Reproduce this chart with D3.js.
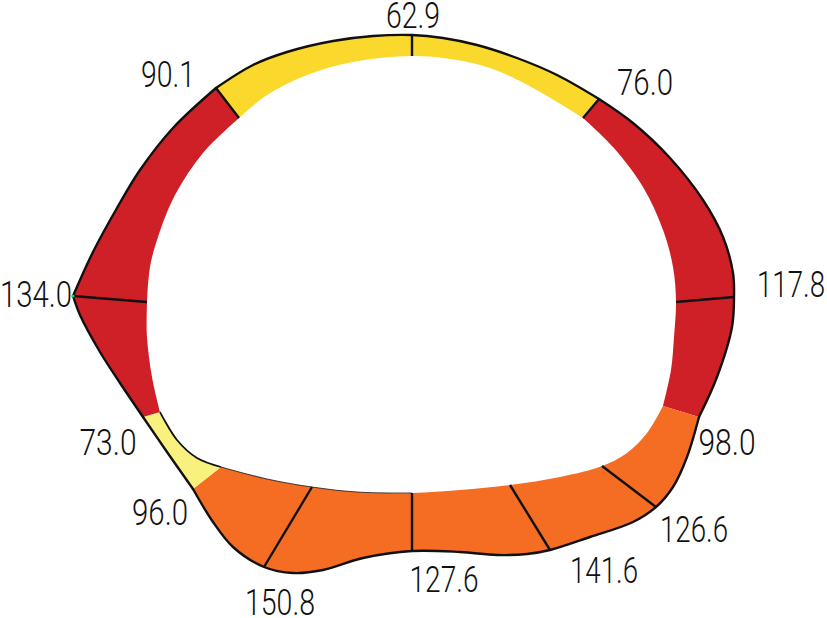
<!DOCTYPE html>
<html>
<head>
<meta charset="utf-8">
<script src="https://cdn.jsdelivr.net/npm/d3@7"></script>
<style>
html, body { margin: 0; padding: 0; background: #fff; }
svg { display: block; }
text { font-family: Roboto, "Liberation Sans", sans-serif; font-weight: 300; font-size: 36px; fill: #111; }
</style>
</head>
<body>
<div id="area"></div>
<script>
// DATA, section drawing units, origin on the centreline, y up
var stationValues = ['62.9', '76.0', '117.8', '98.0', '126.6', '141.6', '127.6', '150.8', '96.0', '73.0', '134.0', '90.1'];

var outerX = [0, 31, 65, 105, 145, 187, 221, 258, 291, 311, 321, 322, 320, 305, 287, 275, 261, 244, 221, 178, 138, 115, 85, 48, 0, -49, -89, -119, -148, -179, -199, -219, -245, -269, -292, -312, -332, -339, -319, -295, -272, -239, -196, -159, -125, -79, -39];
var outerY = [265, 262, 255, 242, 225, 201, 177, 142, 100, 63, 27, 3, -27, -77, -117, -157, -187, -207, -222, -237, -250, -254, -255, -252, -251, -258, -270, -273, -267, -247, -222, -189, -152, -117, -83, -52, -15, 4, 48, 92, 130, 172, 212, 235, 248, 259, 264];
var innerX = [0, 38, 78, 121, 171, 201, 231, 251, 261, 264, 262, 259, 251, 235, 215, 190, 148, 98, 48, 0, -55, -100, -145, -191, -215, -235, -252, -260, -265, -265, -262, -254, -237, -209, -173, -145, -105, -59];
var innerY = [244, 241, 232, 212, 182, 153, 113, 70, 33, -2, -37, -70, -106, -133, -153, -166, -177, -185, -190, -193, -192, -187, -179, -167, -158, -140, -112, -77, -37, -2, 33, 63, 105, 147, 182, 205, 225, 238];

// index of each station along the contours
var outerStation = [0, 5, 11, 14, 17, 20, 24, 28, 31, 33, 37, 42];
var innerStation = [0, 4, 9, 12, 15, 17, 19, 21, 23, 26, 29, 34];

// bands between stations
var bandFrom = [11, 1, 3, 8, 9, 10];
var bandTo = [1, 3, 8, 9, 10, 11];
var bandColor = ['#fad92c', '#cf2027', '#f46d22', '#f8f17e', '#cf2027', '#cf2027'];

// stations that get a divider line
var dividers = [0, 1, 2, 4, 5, 6, 7, 10, 11];

// label anchors and widths, same units as the contours
var labelX = [1, 233, 379, 315, 282, 192, 32, -132, -252, -304, -376, -244];
var labelY = [272, 205, 3, -155, -242, -283, -292, -315, -225, -155, -7, 213];
var labelW = [54, 56, 68, 57, 68, 68, 69, 70, 56, 57, 72, 54];

// BOUNDS
var width = 827, height = 618;

// SCALE
var xScale = d3.scaleLinear().domain([-412, 415]).range([0, width]);
var yScale = d3.scaleLinear().domain([300, -318]).range([0, height]);

var svg = d3.select('#area')
	.append('svg')
	.attr('width', width)
	.attr('height', height);

var line = d3.line()
	.x(function(d) { return xScale(d[0]); })
	.y(function(d) { return yScale(d[1]); })
	.curve(d3.curveCatmullRom.alpha(0.5));

// contour points from index a to index b, going round if needed
function slice(xs, ys, a, b) {
	var pts = [], n = xs.length, i = a;
	while (true) {
		pts.push([xs[i], ys[i]]);
		if (i == b) break;
		i = (i + 1) % n;
	}
	return pts;
}

// FILLS
bandFrom.forEach(function(from, i) {
	var o = slice(outerX, outerY, outerStation[from], outerStation[bandTo[i]]);
	var inn = slice(innerX, innerY, innerStation[from], innerStation[bandTo[i]]).reverse();
	svg.append('path')
		.attr('d', line(o) + 'L' + line(inn).slice(1) + 'Z')
		.attr('fill', bandColor[i])
		.attr('stroke', 'none');
});

// inner edge: bottom left only, station 6 to 8 thin, 8 to 9 heavier
svg.append('path')
	.attr('d', line(slice(innerX, innerY, innerStation[6], innerStation[8])))
	.attr('fill', 'none')
	.attr('stroke', '#111')
	.attr('stroke-opacity', 0.75)
	.attr('stroke-width', 1.2);

svg.append('path')
	.attr('d', line(slice(innerX, innerY, innerStation[8], innerStation[9])))
	.attr('fill', 'none')
	.attr('stroke', '#111')
	.attr('stroke-width', 1.8);

// DIVIDERS
dividers.forEach(function(s) {
	var a = outerStation[s], b = innerStation[s];
	svg.append('line')
		.attr('x1', xScale(outerX[a]))
		.attr('y1', yScale(outerY[a]))
		.attr('x2', xScale(innerX[b]))
		.attr('y2', yScale(innerY[b]))
		.attr('stroke', '#111')
		.attr('stroke-width', 2.4);
});

// outer edge
bandFrom.forEach(function(from, i) {
	svg.append('path')
		.attr('d', line(slice(outerX, outerY, outerStation[from], outerStation[bandTo[i]])))
		.attr('fill', 'none')
		.attr('stroke', '#111')
		.attr('stroke-width', 2.4)
		.attr('stroke-linecap', 'round');
});

// little green node on the left corner
svg.append('circle')
	.attr('cx', xScale(outerX[outerStation[10]]))
	.attr('cy', yScale(outerY[outerStation[10]]))
	.attr('r', 1.6)
	.attr('fill', '#22dd22');

// LABELS
svg.selectAll('text.value')
	.data(stationValues)
	.enter()
	.append('text')
	.attr('class', 'value')
	.attr('text-anchor', 'middle')
	.attr('x', function(d, i) { return xScale(labelX[i]); })
	.attr('y', function(d, i) { return yScale(labelY[i]); })
	.attr('textLength', function(d, i) { return labelW[i]; })
	.attr('lengthAdjust', 'spacingAndGlyphs')
	.text(function(d) { return d; });
</script>
</body>
</html>
